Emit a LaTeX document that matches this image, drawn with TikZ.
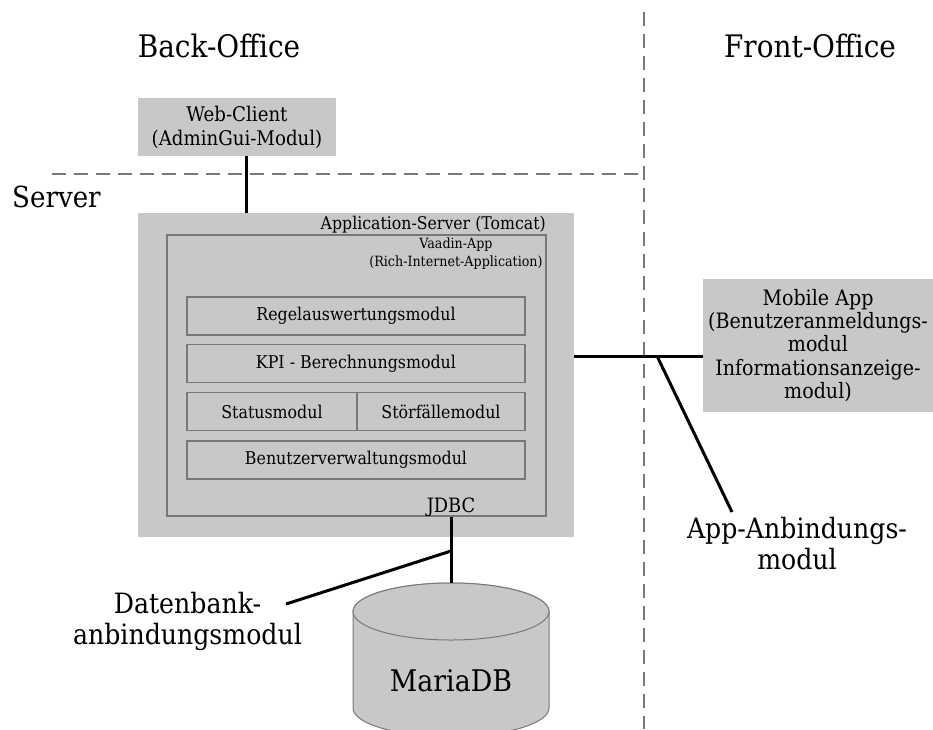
\documentclass[tikz,border=0pt]{standalone}
\usepackage{fontspec}
\setmainfont{DejaVu Serif}[FakeStretch=0.9]
\definecolor{boxgray}{RGB}{200,200,200}
\definecolor{randgray}{RGB}{120,120,120}
\begin{document}
\begin{tikzpicture}[x=1pt, y=-1pt, box/.style={fill=boxgray, inner sep=0pt, align=center}, modul/.style={draw=randgray, line width=1.2pt, inner sep=0pt, minimum height=38pt, font=\fontsize{17.6}{21}\selectfont}, grenze/.style={randgray, line width=1.5pt, dash pattern=on 14pt off 8pt}, verbindung/.style={line width=3pt}]
	\tikzstyle{titel}=[inner sep=0pt, font=\fontsize{31}{36}\selectfont]
	\tikzstyle{beschriftung}=[inner sep=0pt, align=center, font=\fontsize{28}{31}\selectfont]
	\useasboundingbox (0,0) rectangle (933,729);

	\node[titel] (backoffice) at (219,46) {Back-Office};
	\node[titel] (frontoffice) at (810,46) {Front-Office};
	\node[titel, anchor=west, font=\fontsize{29}{34}\selectfont] (server) at (12,197) {Server};

	\coordinate (voben) at (644,12);
	\coordinate (vunten) at (644,729);
	\coordinate (hlinks) at (52,174);
	\draw[grenze] (voben) -- (vunten);
	\draw[grenze] (hlinks) -- (hlinks -| voben);

	\node[box, minimum width=198pt, minimum height=58pt, font=\fontsize{20.2}{24}\selectfont] (webclient) at (237,127) {Web-Client\\(AdminGui-Modul)};

	\node[box, minimum width=436pt, minimum height=324pt] (appserver) at (356,375) {};
	\node[anchor=base east, inner sep=0pt, font=\fontsize{17.5}{21}\selectfont] (tomcat) at (546,229) {Application-Server (Tomcat)};
	\node[draw=randgray, line width=1.2pt, inner sep=0pt, minimum width=379pt, minimum height=281pt] (vaadin) at (356.5,375.5) {};
	\node[inner sep=0pt, align=center, font=\fontsize{14.1}{18}\selectfont] (vaadintext) at (456,254) {Vaadin-App\\(Rich-Internet-Application)};

	\node[modul, minimum width=338pt] (regel) at (356,316) {Regelauswertungsmodul};
	\node[modul, minimum width=338pt] (kpi) at (356,363.5) {KPI - Berechnungsmodul};
	\node[modul, minimum width=170pt] (status) at (272,411.5) {Statusmodul};
	\node[modul, minimum width=168pt] (stoerung) at (441,411.5) {Störfällemodul};
	\node[modul, minimum width=338pt] (benutzer) at (356,460) {Benutzerverwaltungsmodul};
	\node[anchor=base, inner sep=0pt, font=\fontsize{19.8}{24}\selectfont] (jdbc) at (451,512) {JDBC};

	\node[box, minimum width=230pt, minimum height=133pt, font=\fontsize{21.2}{23.3}\selectfont] (mobile) at (818,345.5) {Mobile App\\(Benutzeranmeldungs-\\modul\\Informationsanzeige-\\modul)};

	% Datenbank
	\filldraw[fill=boxgray, draw=randgray, line width=1pt] (353,611.5) -- (353,708) arc[start angle=180, end angle=0, x radius=98, y radius=28.5] -- (549,611.5) arc[start angle=0, end angle=-180, x radius=98, y radius=28.5] -- cycle;
	\filldraw[fill=boxgray, draw=randgray, line width=1pt] (451,611.5) ellipse[x radius=98, y radius=28.5];
	\coordinate (dboben) at (451,583);
	\node[inner sep=0pt, font=\fontsize{29.8}{34}\selectfont] (mariadb) at (451,681) {MariaDB};

	\node[beschriftung] (dblabel) at (187.5,621) {Datenbank-\\anbindungsmodul};
	\node[beschriftung] (applabel) at (797,544) {App-Anbindungs-\\modul};

	\coordinate (wcanschluss) at (246,0);
	\coordinate (dbabzweig) at (451,551);
	\coordinate (dbende) at (286,604);
	\coordinate (appanschluss) at (574,356);
	\coordinate (appabzweig) at (657,356);
	\coordinate (appende) at (732,512);

	\draw[verbindung] (webclient.south -| wcanschluss) -- (appserver.north -| wcanschluss);
	\draw[verbindung] (jdbc |- vaadin.south) -- (dboben);
	\draw[verbindung] (dbabzweig) -- (dbende);
	\draw[verbindung] (appanschluss) -- (appanschluss -| mobile.west);
	\draw[verbindung] (appabzweig) -- (appende);
\end{tikzpicture}
\end{document}
